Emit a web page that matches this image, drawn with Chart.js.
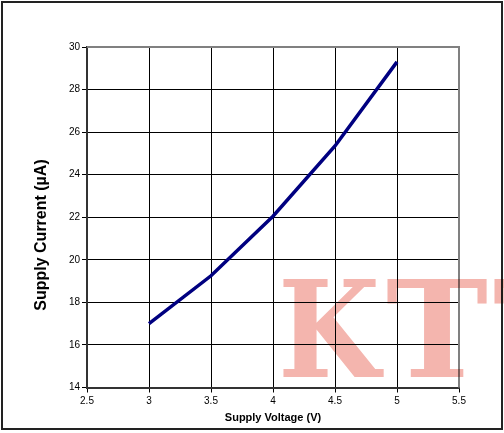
<!DOCTYPE html>
<html>
<head>
<meta charset="utf-8">
<script src="https://cdn.jsdelivr.net/npm/chart.js@4.4.1/dist/chart.umd.min.js"></script>
<style>
  html, body { margin: 0; padding: 0; background: #fff; }
  #wrap { width: 504px; height: 433px; position: relative; }
</style>
</head>
<body>
<div id="wrap"><canvas id="chart"></canvas></div>
<script>
// data
const voltages = [3, 3.5, 4, 4.5, 5];
const currents = [17.0, 19.25, 22.05, 25.35, 29.3];

const xTitle = "Supply Voltage (V)";
const yTitle = "Supply Current (\u00b5A)";
const xRange = [2.5, 5.5];
const yRange = [14, 30];
const watermark = ["K", "T", "T"];

/* ---- extras: outer frame, plot frame, y title, watermark ---- */
const decorPlugin = {
  id: "decor",
  afterDraw(chart) {
    const { ctx, chartArea: a } = chart;
    ctx.save();

    // top and right edges of the plot in grey
    ctx.strokeStyle = "#808080";
    ctx.lineWidth = 2;
    ctx.beginPath();
    ctx.moveTo(a.left, a.top);
    ctx.lineTo(a.right, a.top);
    ctx.lineTo(a.right, a.bottom);
    ctx.stroke();

    // y axis title
    ctx.fillStyle = "#000";
    ctx.font = "bold 16px 'Liberation Sans', Arial, sans-serif";
    ctx.textAlign = "center";
    ctx.textBaseline = "middle";
    ctx.translate(42, 235);
    ctx.rotate(-Math.PI / 2);
    ctx.fillText(yTitle, 0, 0);
    ctx.restore();

    // outer frame
    ctx.save();
    ctx.strokeStyle = "#222";
    ctx.lineWidth = 2;
    ctx.strokeRect(2, 2, 500, 427);
    ctx.restore();

    // watermark
    ctx.save();
    ctx.globalCompositeOperation = "multiply";
    ctx.fillStyle = "#f4b5ae";
    ctx.font = "bold 134px 'DejaVu Serif', serif";
    ctx.textBaseline = "alphabetic";
    ctx.textAlign = "left";
    const starts = [278, 386, 493];
    watermark.forEach((ch, i) => {
      const w = ctx.measureText(ch).width;
      ctx.save();
      ctx.translate(starts[i], 377);
      ctx.scale(102 / w, 1);
      ctx.fillText(ch, 0, 0);
      ctx.restore();
    });
    ctx.restore();
  }
};

const tickFont = { family: "'Liberation Sans', Arial, sans-serif", size: 10 };

new Chart(document.getElementById("chart"), {
  type: "line",
  data: {
    datasets: [{
      data: voltages.map((v, i) => ({ x: v, y: currents[i] })),
      borderColor: "#000080",
      borderWidth: 3.5,
      pointRadius: 0,
      tension: 0,
      fill: false
    }]
  },
  options: {
    responsive: true,
    maintainAspectRatio: false,
    animation: false,
    devicePixelRatio: 1,
    layout: {
      padding: { left: 0, right: 45, top: 47, bottom: 0 }
    },
    plugins: {
      legend: { display: false },
      tooltip: { enabled: false }
    },
    scales: {
      x: {
        type: "linear",
        min: xRange[0],
        max: xRange[1],
        afterFit: (s) => { s.height = 45.5; },
        ticks: {
          stepSize: 0.5,
          color: "#000",
          font: tickFont,
          padding: 3,
          maxRotation: 0,
          callback: (v) => String(v)
        },
        grid: {
          color: (c) => (c.tick && c.tick.value === xRange[1]) ? "rgba(0,0,0,0)" : "#000",
          lineWidth: 1,
          tickLength: 5,
          tickColor: "#000",
          tickWidth: 1
        },
        border: { display: true, color: "#333", width: 2 },
        title: {
          display: true,
          text: xTitle,
          color: "#000",
          font: { family: "'Liberation Sans', Arial, sans-serif", size: 11, weight: "bold" },
          padding: { top: 0, bottom: 8 }
        }
      },
      y: {
        min: yRange[0],
        max: yRange[1],
        afterFit: (s) => { s.width = 87; },
        ticks: {
          stepSize: 2,
          color: "#000",
          font: tickFont,
          padding: 2
        },
        grid: {
          color: (c) => (c.tick && c.tick.value === yRange[1]) ? "rgba(0,0,0,0)" : "#000",
          lineWidth: 1,
          tickLength: 5,
          tickColor: "#000",
          tickWidth: 1
        },
        border: { display: true, color: "#333", width: 2 }
      }
    }
  },
  plugins: [decorPlugin]
});
</script>
</body>
</html>
